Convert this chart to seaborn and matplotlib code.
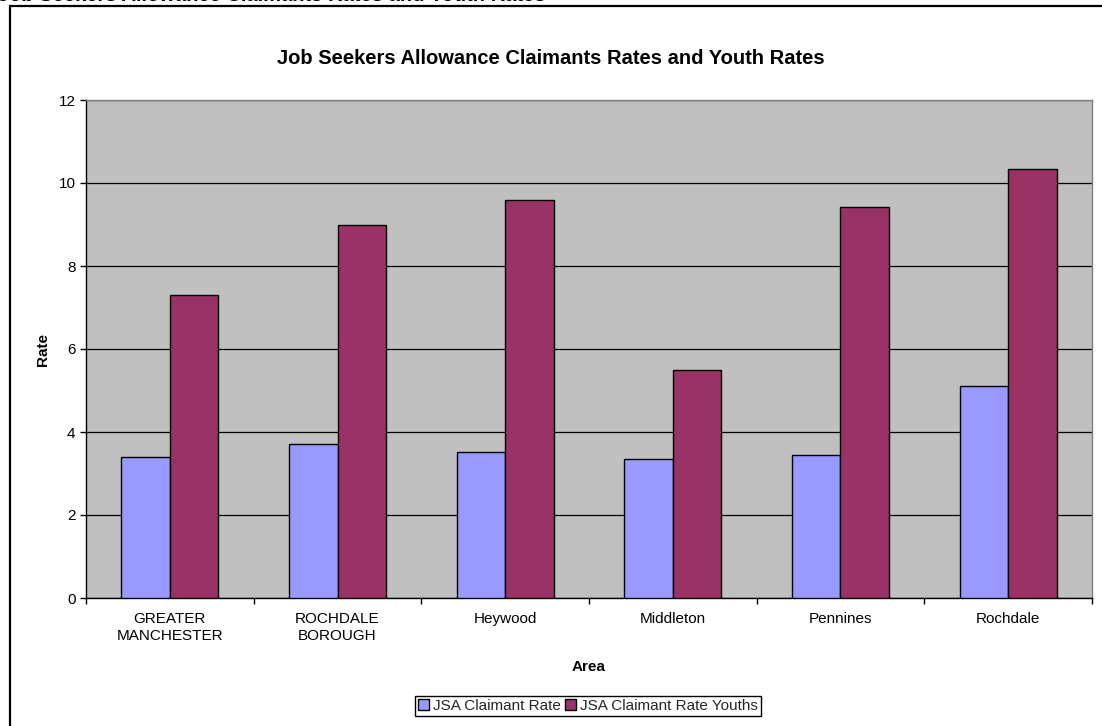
import matplotlib
matplotlib.use("Agg")
import matplotlib.pyplot as plt
from matplotlib.patches import Patch, Rectangle
import numpy as np
import pandas as pd
import seaborn as sns

# Data
areas = ["GREATER\nMANCHESTER", "ROCHDALE\nBOROUGH", "Heywood", "Middleton", "Pennines", "Rochdale"]
claimant_rate = [3.40, 3.70, 3.53, 3.36, 3.45, 5.10]
youth_rate = [7.30, 9.00, 9.60, 5.50, 9.42, 10.33]
series = ["JSA Claimant Rate", "JSA Claimant Rate Youths"]
y_ticks = [0, 2, 4, 6, 8, 10, 12]
title = "Job Seekers Allowance Claimants Rates and Youth Rates"

colors = ["#9999FF", "#993366"]

sns.set_theme(style="white")
plt.rcParams["font.family"] = ["Liberation Sans", "DejaVu Sans"]

df = pd.DataFrame({
    "Area": areas * 2,
    "Rate": claimant_rate + youth_rate,
    "Series": [series[0]] * len(areas) + [series[1]] * len(areas),
})

W, H = 1102, 726
fig = plt.figure(figsize=(W / 100, H / 100), dpi=100)
fig.patch.set_facecolor("white")

# Outer chart frame
fig.patches.append(Rectangle((10 / W, -0.05), 1.2, 1 - 6 / H + 0.05,
                             transform=fig.transFigure, fill=False,
                             edgecolor="black", linewidth=1.6))

# Heading of the page above the chart frame
fig.text(-2 / W, 1 - 1.2 / H, title, ha="left", va="baseline",
         fontsize=14.5, fontweight="bold", color="black")

ax = fig.add_axes([86 / W, 1 - 598 / H, (1092 - 86) / W, 498 / H])
ax.set_facecolor("#C0C0C0")

sns.barplot(data=df, x="Area", y="Rate", hue="Series", order=areas,
            hue_order=series, palette=colors, width=0.58, gap=0,
            saturation=1, edgecolor="black", linewidth=1.0,
            legend=False, ax=ax, zorder=3)

ax.set_ylim(0, 12)
ax.set_xlim(-0.5, len(areas) - 0.5)
ax.set_yticks(y_ticks)
ax.yaxis.grid(True, color="black", linewidth=0.9)
ax.xaxis.grid(False)
ax.set_axisbelow(True)

for side in ["left", "bottom"]:
    ax.spines[side].set_color("black")
    ax.spines[side].set_linewidth(1.0)
for side in ["top", "right"]:
    ax.spines[side].set_color("#808080")
    ax.spines[side].set_linewidth(1.0)

ax.tick_params(axis="y", which="major", left=True, length=4.5, width=1,
               color="black", labelsize=11, pad=3, labelcolor="black")
ax.set_xticks(range(len(areas)))
ax.set_xticklabels(areas, fontsize=11, color="black", linespacing=1.25)
ax.tick_params(axis="x", which="major", bottom=True, length=0, pad=10)
ax.set_xticks(np.arange(-0.5, len(areas), 1.0), minor=True)
ax.tick_params(axis="x", which="minor", bottom=True, length=4.5, width=1,
               color="black", direction="out")

ax.set_ylabel("Rate", fontsize=11, fontweight="bold", color="black")
ax.yaxis.set_label_coords(-0.036, 0.5)
ax.set_xlabel("Area", fontsize=11, fontweight="bold", color="black")
ax.xaxis.set_label_coords(0.5, -0.124)

fig.text(0.5, 1 - 64 / H, title, ha="center", va="baseline",
         fontsize=14.5, fontweight="bold", color="black")

handles = [Patch(facecolor=c, edgecolor="black", linewidth=1.0) for c in colors]
leg = fig.legend(handles, series, loc="center",
                 bbox_to_anchor=(588 / W, 1 - 706 / H), ncol=2,
                 frameon=True, fancybox=False, framealpha=1,
                 edgecolor="black", fontsize=11, borderpad=0.2,
                 handlelength=0.7, handleheight=0.7, handletextpad=0.25,
                 columnspacing=0.3, borderaxespad=0)
leg.get_frame().set_linewidth(1.0)

fig.savefig("out.png", dpi=100, facecolor="white")
